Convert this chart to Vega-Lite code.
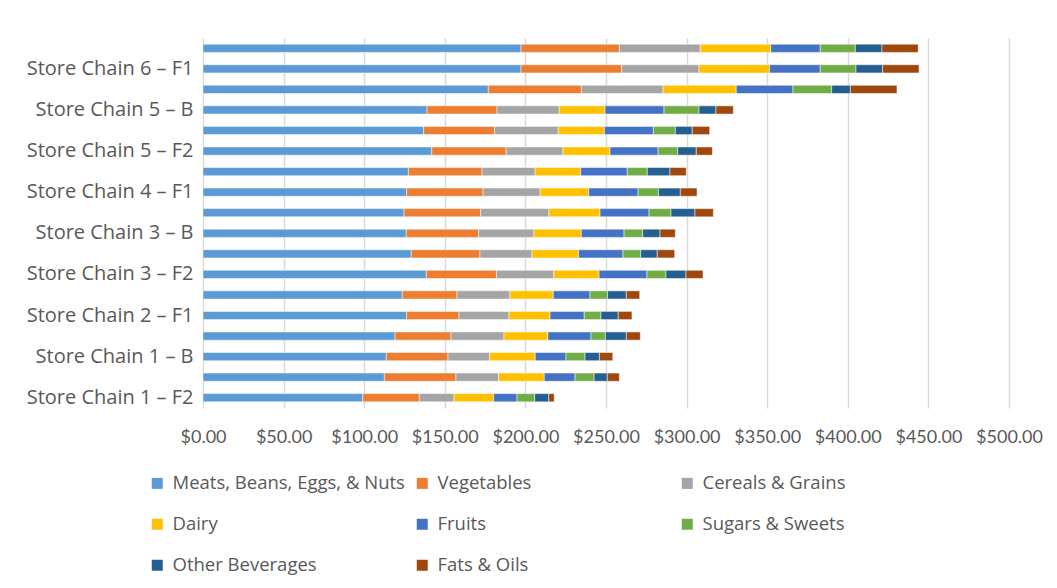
{
  "$schema": "https://vega.github.io/schema/vega-lite/v6.json",
  "width": 806,
  "height": 370,
  "autosize": {"type": "none"},
  "padding": {"left": 203, "top": 38, "right": 48, "bottom": 180},
  "background": "white",
  "config": {"view": {"stroke": null}, "font": "Open Sans"},
  "data": {
    "values": [
      {"Store": "Store Chain 1 – F2", "Meats, Beans, Eggs, & Nuts": 99.1, "Vegetables": 35.1, "Cereals & Grains": 21.5, "Dairy": 24.6, "Fruits": 14.5, "Sugars & Sweets": 11.0, "Other Beverages": 8.7, "Fats & Oils": 3.4},
      {"Store": "Store Chain 1 – F1", "Meats, Beans, Eggs, & Nuts": 112.5, "Vegetables": 44.4, "Cereals & Grains": 26.5, "Dairy": 28.3, "Fruits": 19.1, "Sugars & Sweets": 11.8, "Other Beverages": 8.2, "Fats & Oils": 7.5},
      {"Store": "Store Chain 1 – B", "Meats, Beans, Eggs, & Nuts": 113.7, "Vegetables": 38.3, "Cereals & Grains": 25.8, "Dairy": 28.3, "Fruits": 19.1, "Sugars & Sweets": 11.8, "Other Beverages": 8.9, "Fats & Oils": 8.3},
      {"Store": "Store Chain 2 – F2", "Meats, Beans, Eggs, & Nuts": 119.1, "Vegetables": 34.7, "Cereals & Grains": 32.9, "Dairy": 27.3, "Fruits": 26.7, "Sugars & Sweets": 8.9, "Other Beverages": 13.0, "Fats & Oils": 8.7},
      {"Store": "Store Chain 2 – F1", "Meats, Beans, Eggs, & Nuts": 126.3, "Vegetables": 32.5, "Cereals & Grains": 31.0, "Dairy": 25.5, "Fruits": 21.2, "Sugars & Sweets": 10.4, "Other Beverages": 10.7, "Fats & Oils": 8.5},
      {"Store": "Store Chain 2 – B", "Meats, Beans, Eggs, & Nuts": 123.6, "Vegetables": 34.0, "Cereals & Grains": 32.8, "Dairy": 26.9, "Fruits": 22.8, "Sugars & Sweets": 10.9, "Other Beverages": 11.6, "Fats & Oils": 8.3},
      {"Store": "Store Chain 3 – F2", "Meats, Beans, Eggs, & Nuts": 138.5, "Vegetables": 43.5, "Cereals & Grains": 35.6, "Dairy": 28.1, "Fruits": 29.7, "Sugars & Sweets": 11.8, "Other Beverages": 12.4, "Fats & Oils": 10.6},
      {"Store": "Store Chain 3 – F1", "Meats, Beans, Eggs, & Nuts": 129.2, "Vegetables": 42.6, "Cereals & Grains": 32.3, "Dairy": 28.9, "Fruits": 27.5, "Sugars & Sweets": 11.0, "Other Beverages": 10.3, "Fats & Oils": 10.8},
      {"Store": "Store Chain 3 – B", "Meats, Beans, Eggs, & Nuts": 126.1, "Vegetables": 44.9, "Cereals & Grains": 34.3, "Dairy": 29.4, "Fruits": 26.5, "Sugars & Sweets": 11.6, "Other Beverages": 10.7, "Fats & Oils": 9.5},
      {"Store": "Store Chain 4 – F2", "Meats, Beans, Eggs, & Nuts": 124.7, "Vegetables": 47.6, "Cereals & Grains": 42.3, "Dairy": 31.7, "Fruits": 30.4, "Sugars & Sweets": 13.6, "Other Beverages": 14.9, "Fats & Oils": 11.4},
      {"Store": "Store Chain 4 – F1", "Meats, Beans, Eggs, & Nuts": 126.3, "Vegetables": 47.4, "Cereals & Grains": 35.4, "Dairy": 30.2, "Fruits": 30.6, "Sugars & Sweets": 12.6, "Other Beverages": 13.6, "Fats & Oils": 10.4},
      {"Store": "Store Chain 4 – B", "Meats, Beans, Eggs, & Nuts": 127.4, "Vegetables": 45.7, "Cereals & Grains": 32.9, "Dairy": 28.3, "Fruits": 28.9, "Sugars & Sweets": 12.4, "Other Beverages": 14.1, "Fats & Oils": 10.1},
      {"Store": "Store Chain 5 – F2", "Meats, Beans, Eggs, & Nuts": 141.9, "Vegetables": 46.1, "Cereals & Grains": 35.3, "Dairy": 29.2, "Fruits": 29.8, "Sugars & Sweets": 12.2, "Other Beverages": 11.5, "Fats & Oils": 10.0},
      {"Store": "Store Chain 5 – F1", "Meats, Beans, Eggs, & Nuts": 136.9, "Vegetables": 44.0, "Cereals & Grains": 39.5, "Dairy": 28.6, "Fruits": 30.4, "Sugars & Sweets": 13.6, "Other Beverages": 10.5, "Fats & Oils": 10.8},
      {"Store": "Store Chain 5 – B", "Meats, Beans, Eggs, & Nuts": 139.0, "Vegetables": 43.4, "Cereals & Grains": 38.6, "Dairy": 28.4, "Fruits": 36.6, "Sugars & Sweets": 21.7, "Other Beverages": 10.5, "Fats & Oils": 10.8},
      {"Store": "Store Chain 6 – F2", "Meats, Beans, Eggs, & Nuts": 177.0, "Vegetables": 57.7, "Cereals & Grains": 50.7, "Dairy": 45.4, "Fruits": 35.2, "Sugars & Sweets": 24.0, "Other Beverages": 11.6, "Fats & Oils": 28.9},
      {"Store": "Store Chain 6 – F1", "Meats, Beans, Eggs, & Nuts": 197.3, "Vegetables": 62.4, "Cereals & Grains": 48.0, "Dairy": 43.8, "Fruits": 31.4, "Sugars & Sweets": 22.2, "Other Beverages": 16.5, "Fats & Oils": 22.6},
      {"Store": "Store Chain 6 – B", "Meats, Beans, Eggs, & Nuts": 197.3, "Vegetables": 61.0, "Cereals & Grains": 50.2, "Dairy": 43.7, "Fruits": 30.7, "Sugars & Sweets": 21.8, "Other Beverages": 16.5, "Fats & Oils": 22.5}
    ]
  },
  "transform": [
    {"fold": ["Meats, Beans, Eggs, & Nuts", "Vegetables", "Cereals & Grains", "Dairy", "Fruits", "Sugars & Sweets", "Other Beverages", "Fats & Oils"], "as": ["Category", "Cost"]},
    {"window": [{"op": "row_number", "as": "stackRank"}], "groupby": ["Store"]}
  ],
  "mark": {"type": "bar", "stroke": "white", "strokeWidth": 0.5},
  "encoding": {
    "y": {
      "field": "Store",
      "type": "nominal",
      "sort": ["Store Chain 6 – B", "Store Chain 6 – F1", "Store Chain 6 – F2", "Store Chain 5 – B", "Store Chain 5 – F1", "Store Chain 5 – F2", "Store Chain 4 – B", "Store Chain 4 – F1", "Store Chain 4 – F2", "Store Chain 3 – B", "Store Chain 3 – F1", "Store Chain 3 – F2", "Store Chain 2 – B", "Store Chain 2 – F1", "Store Chain 2 – F2", "Store Chain 1 – B", "Store Chain 1 – F1", "Store Chain 1 – F2"],
      "scale": {"paddingInner": 0.6, "paddingOuter": 0.3},
      "axis": {
        "title": null,
        "values": ["Store Chain 6 – F1", "Store Chain 5 – B", "Store Chain 5 – F2", "Store Chain 4 – F1", "Store Chain 3 – B", "Store Chain 3 – F2", "Store Chain 2 – F1", "Store Chain 1 – B", "Store Chain 1 – F2"],
        "domain": false,
        "ticks": false,
        "tickSize": 0,
        "grid": false,
        "labelPadding": 10,
        "labelFontSize": 20,
        "labelColor": "#595959",
        "labelLimit": 300
      }
    },
    "x": {
      "field": "Cost",
      "type": "quantitative",
      "stack": "zero",
      "scale": {"domain": [0, 500]},
      "axis": {
        "title": null,
        "values": [0, 50, 100, 150, 200, 250, 300, 350, 400, 450, 500],
        "format": "$,.2f",
        "domain": false,
        "ticks": false,
        "tickSize": 0,
        "labelPadding": 20,
        "labelFont": "Lato",
        "labelFontSize": 18,
        "labelFlush": false,
        "labelOverlap": false,
        "labelColor": "#595959",
        "gridColor": "#d9d9d9",
        "gridWidth": 1.5
      }
    },
    "order": {"field": "stackRank", "type": "quantitative", "sort": "ascending"},
    "color": {
      "field": "Category",
      "type": "nominal",
      "sort": ["Meats, Beans, Eggs, & Nuts", "Vegetables", "Cereals & Grains", "Dairy", "Fruits", "Sugars & Sweets", "Other Beverages", "Fats & Oils"],
      "scale": {
        "domain": ["Meats, Beans, Eggs, & Nuts", "Vegetables", "Cereals & Grains", "Dairy", "Fruits", "Sugars & Sweets", "Other Beverages", "Fats & Oils"],
        "range": ["#5B9BD5", "#ED7D31", "#A5A5A5", "#FFC000", "#4472C4", "#70AD47", "#255E91", "#9E480E"]
      },
      "legend": {
        "title": null,
        "orient": "none",
        "legendX": -55,
        "legendY": 436,
        "direction": "horizontal",
        "columns": 3,
        "gridAlign": "all",
        "columnPadding": 8,
        "rowPadding": 22,
        "padding": 0,
        "symbolType": "square",
        "symbolSize": 121,
        "symbolStrokeWidth": 0,
        "labelFontSize": 18.5,
        "labelColor": "#595959",
        "labelOffset": 6,
        "labelLimit": 400
      }
    }
  }
}
